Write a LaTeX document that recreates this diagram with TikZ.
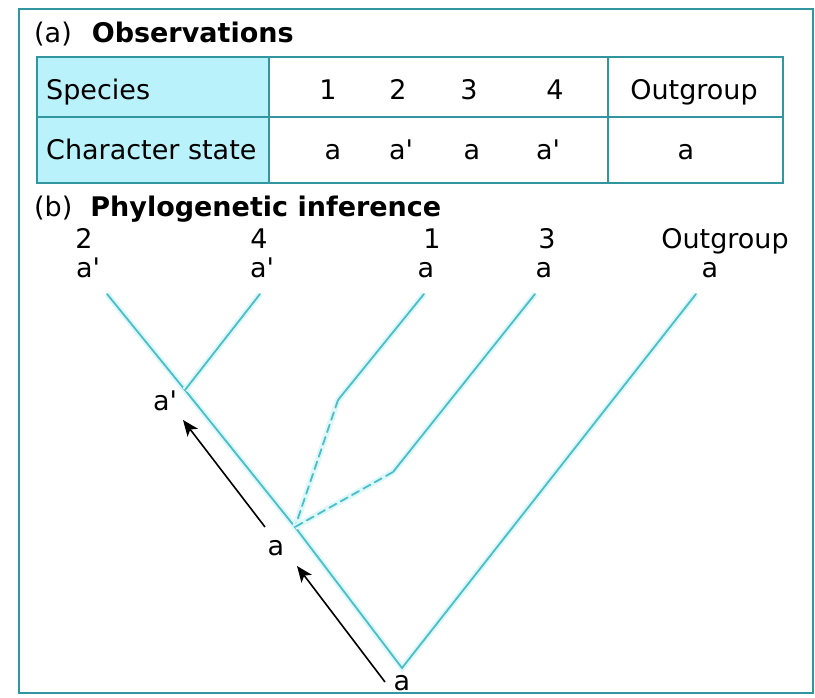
\documentclass[tikz,border=0pt]{standalone}
\usepackage{fontspec}
\newfontfamily\labelfont{DejaVu Sans}
\usepackage{tikz}
\usetikzlibrary{arrows.meta,positioning}
\definecolor{tablerule}{RGB}{50,150,160}
\definecolor{cellfill}{RGB}{185,242,250}
\definecolor{branch}{RGB}{75,190,200}
\definecolor{halo}{RGB}{222,248,250}

\begin{document}
\begin{tikzpicture}[
  x=1pt, y=-1pt,
  txt/.style={font=\labelfont\fontsize{27}{32}\selectfont, inner sep=0pt, anchor=base},
  head/.style={txt, anchor=base west},
  rule/.style={draw=tablerule, line width=2pt},
  branchline/.style={draw=branch, line width=1.8pt, line cap=round, preaction={draw=halo, line width=6pt}},
  guess/.style={branchline, dash pattern=on 8pt off 5pt},
  arrow/.style={-{Stealth[length=16pt, width=13pt, inset=4pt]}, line width=1.6pt, black},
]
  \useasboundingbox (0,0) rectangle (815,698);

  \node[head] (heada) at (34,43) {(a)\hspace{20pt}\textbf{Observations}};

  \fill[cellfill] (37,57) rectangle (269,183);
  \draw[rule] (37,57) rectangle (783,183);
  \draw[rule] (37,117) -- (783,117);
  \draw[rule] (269,57) -- (269,183);
  \draw[rule] (608,57) -- (608,183);

  \node[head] (species) at (46,100) {Species};
  \node[head] (charstate) at (46,160) {Character state};
  \node[txt] (sp1) at (328,100) {1};
  \node[txt] (sp2) at (398,100) {2};
  \node[txt] (sp3) at (469,100) {3};
  \node[txt] (sp4) at (555,100) {4};
  \node[txt] (spout) at (694,100) {Outgroup};
  \node[txt] (cs1) at (333,160) {a};
  \node[txt] (cs2) at (401,160) {a'};
  \node[txt] (cs3) at (472,160) {a};
  \node[txt] (cs4) at (548,160) {a'};
  \node[txt] (csout) at (686,160) {a};

  \node[head] (headb) at (34,217) {(b)\hspace{18pt}\textbf{Phylogenetic inference}};

  \node[txt] (leaf2) at (84,248) {2};
  \node[txt] (leaf4) at (259,248) {4};
  \node[txt] (leaf1) at (432,248) {1};
  \node[txt] (leaf3) at (547,248) {3};
  \node[txt] (leafout) at (725,248) {Outgroup};
  \node[txt] (st2) at (88,277) {a'};
  \node[txt] (st4) at (262,277) {a'};
  \node[txt] (st1) at (426,277) {a};
  \node[txt] (st3) at (544,277) {a};
  \node[txt] (stout) at (710,277) {a};

  \coordinate (tip2) at (107,294);
  \coordinate (tip4) at (260,294);
  \coordinate (tip1) at (424,294);
  \coordinate (tip3) at (535,294);
  \coordinate (tipout) at (696,294);
  \coordinate (fork24) at (185,390);
  \coordinate (bend1) at (338,400);
  \coordinate (bend3) at (393,472);
  \coordinate (fork) at (295,527);
  \coordinate (root) at (402,668);

  \draw[branchline] (tip2) -- (fork24) -- (fork) -- (root) -- (tipout);
  \draw[branchline] (tip4) -- (fork24);
  \draw[branchline] (tip1) -- (bend1);
  \draw[branchline] (tip3) -- (bend3);
  \draw[guess] (bend1) -- (fork);
  \draw[guess] (bend3) -- (fork);

  \node[txt] (stfork24) at (165,410) {a'};
  \node[txt] (stfork) at (276,555) {a};
  \node[txt] (stroot) at (402,690) {a};

  \coordinate (arr1s) at (265,527);
  \coordinate (arr1e) at (183,420);
  \coordinate (arr2s) at (385,682);
  \coordinate (arr2e) at (297,566);
  \draw[arrow] (arr1s) -- (arr1e);
  \draw[arrow] (arr2s) -- (arr2e);

  \draw[draw=tablerule, line width=1.5pt] (19,9) rectangle (813,693);
\end{tikzpicture}
\end{document}
